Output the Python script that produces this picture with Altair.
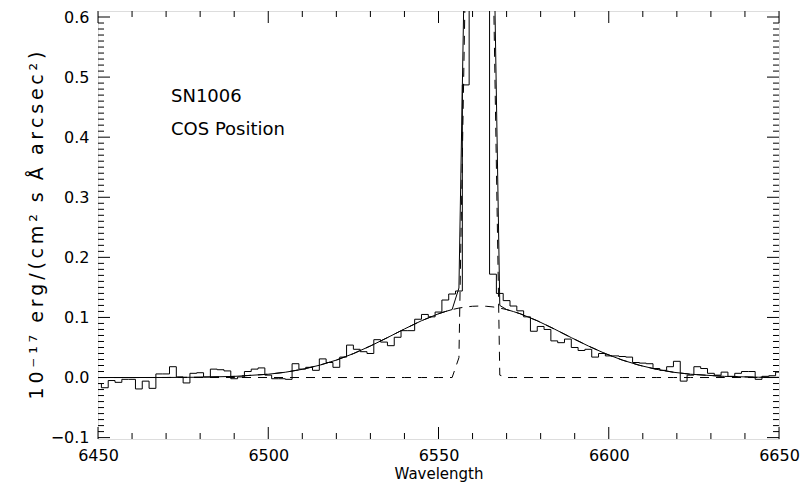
import altair as alt
import pandas as pd

# ---------------- data ----------------
# observed spectrum (histogram, 2 A bins, centres at even wavelengths)
hist_wave = list(range(6450, 6652, 2))
hist_flux = [
    -0.010, -0.017, -0.005, -0.008, -0.003, -0.003, -0.019, -0.006, -0.018, 0.006,   # 6450-6468
    0.006, 0.018, 0.001, -0.009, 0.007, 0.008, 0.001, 0.014, 0.013, 0.011,           # 6470-6488
    -0.002, 0.001, 0.010, 0.014, 0.016, 0.004, -0.002, -0.002, -0.003, 0.023,        # 6490-6508
    0.014, 0.017, 0.012, 0.031, 0.025, 0.017, 0.034, 0.054, 0.047, 0.043,            # 6510-6528
    0.040, 0.063, 0.059, 0.053, 0.067, 0.078, 0.078, 0.097, 0.105, 0.101,            # 6530-6548
    0.109, 0.129, 0.139, 0.144, 0.487, 1.600, 2.800, 1.900, 0.172, 0.140,            # 6550-6568
    0.128, 0.119, 0.111, 0.101, 0.077, 0.085, 0.080, 0.061, 0.058, 0.064,            # 6570-6588
    0.050, 0.045, 0.047, 0.034, 0.040, 0.036, 0.036, 0.035, 0.034, 0.025,            # 6590-6608
    0.024, 0.023, 0.015, 0.012, 0.018, 0.027, -0.006, 0.004, 0.018, 0.015,           # 6610-6628
    0.007, 0.004, 0.009, 0.002, 0.007, 0.010, 0.010, -0.003, 0.002, 0.003,           # 6630-6648
    0.009,                                                                          # 6650
]

# model curves (sampled wavelengths)
model_wave = [6450, 6460, 6470, 6480, 6490, 6500, 6505, 6510, 6515, 6520,
              6525, 6530, 6535, 6540, 6545, 6550, 6552, 6554, 6556, 6558,
              6560, 6562, 6564, 6566, 6568, 6570, 6572, 6574, 6579, 6584,
              6589, 6594, 6599, 6604, 6609, 6614, 6619, 6624, 6634, 6644, 6650]
broad_flux = [0.0000, 0.0000, 0.0001, 0.0005, 0.0019, 0.0055, 0.0088, 0.0137, 0.0204, 0.0290,
              0.0398, 0.0525, 0.0664, 0.0808, 0.0945, 0.1061, 0.1098, 0.1131, 0.1156, 0.1175,
              0.1186, 0.1190, 0.1186, 0.1175, 0.1156, 0.1131, 0.1098, 0.1061, 0.0945, 0.0808,
              0.0664, 0.0525, 0.0398, 0.0290, 0.0204, 0.0137, 0.0088, 0.0055, 0.0019, 0.0005, 0.0002]
narrow_flux = [0.0, 0.0, 0.0, 0.0, 0.0, 0.0, 0.0, 0.0, 0.0, 0.0,
               0.0, 0.0, 0.0, 0.0, 0.0, 0.0, 0.0, 0.0, 0.033, 0.70,
               2.60, 3.60, 2.60, 0.70, 0.004, 0.0, 0.0, 0.0, 0.0, 0.0,
               0.0, 0.0, 0.0, 0.0, 0.0, 0.0, 0.0, 0.0, 0.0, 0.0, 0.0]
total_flux = [0.0000, 0.0000, 0.0001, 0.0005, 0.0019, 0.0055, 0.0088, 0.0137, 0.0204, 0.0290,
              0.0398, 0.0525, 0.0664, 0.0808, 0.0945, 0.1061, 0.1098, 0.1131, 0.149, 0.818,
              2.719, 3.719, 2.719, 0.818, 0.120, 0.1131, 0.1098, 0.1061, 0.0945, 0.0808,
              0.0664, 0.0525, 0.0398, 0.0290, 0.0204, 0.0137, 0.0088, 0.0055, 0.0019, 0.0005, 0.0002]

# axis ticks
x_major = [6450, 6500, 6550, 6600, 6650]
x_minor = [w for w in range(6460, 6650, 10) if w % 50]
y_major = [-0.1, 0.0, 0.1, 0.2, 0.3, 0.4, 0.5, 0.6]
y_minor = [round(-0.1 + i * 0.01, 2) for i in range(71) if i % 10]

labels_text = ["SN1006", "COS Position"]
# wide, evenly spaced lettering like the original vector font
TS = "\u2009"          # thin space between letters
WS = "\u00a0\u00a0"    # non-collapsing gap between words
y_title = WS.join(TS.join(word) for word in ["10⁻¹⁷", "erg/(cm²", "s", "Å", "arcsec²)"])

# ---------------- chart ----------------
W, H = 681, 428
FONT = "DejaVu Sans"
xs = alt.Scale(domain=[6450, 6650], nice=False, zero=False)
ys = alt.Scale(domain=[-0.1023, 0.6100], nice=False, zero=False)

hist_df = pd.DataFrame({"wave": hist_wave, "flux": hist_flux})
model_df = pd.DataFrame({"wave": model_wave, "broad": broad_flux,
                         "narrow": narrow_flux, "total": total_flux})

x_axis = alt.Axis(values=x_major, format="d", tickSize=0, ticks=False, domain=False, grid=False,
                  labelPadding=8, labelFontSize=16, labelFont=FONT, labelColor="black",
                  title="Wavelength", titleFont=FONT, titleFontSize=15, titleFontWeight="normal",
                  titleColor="black", titlePadding=3, labelFlush=False)
y_axis = alt.Axis(values=y_major, format=".1f", tickSize=0, ticks=False, domain=False, grid=False,
                  labelPadding=9, labelFontSize=16, labelFont=FONT, labelColor="black",
                  title=y_title, titleFont=FONT, titleFontSize=19,
                  titleFontWeight="normal", titleColor="black", titlePadding=4, labelFlush=False)

X = lambda f: alt.X(f"{f}:Q", scale=xs, axis=x_axis)
Y = lambda f: alt.Y(f"{f}:Q", scale=ys, axis=y_axis)

hist = alt.Chart(hist_df).mark_line(interpolate="step", color="black", strokeWidth=1, clip=True).encode(
    x=X("wave"), y=Y("flux"))

def model_line(field, dash=None):
    kw = dict(color="black", strokeWidth=1, clip=True)
    if dash:
        kw["strokeDash"] = dash
    return alt.Chart(model_df).mark_line(**kw).encode(x=X("wave"), y=Y(field))

broad = model_line("broad", [9, 7])
narrow = model_line("narrow", [9, 7])
total = model_line("total")

def xticks(vals, length):
    df = pd.DataFrame({"v": vals})
    b = alt.Chart(df).mark_rule(color="black", strokeWidth=1).encode(
        x=X("v"), y=alt.value(H), y2=alt.value(H - length))
    t = alt.Chart(df).mark_rule(color="black", strokeWidth=1).encode(
        x=X("v"), y=alt.value(0), y2=alt.value(length))
    return [b, t]

def yticks(vals, length):
    df = pd.DataFrame({"v": vals})
    l = alt.Chart(df).mark_rule(color="black", strokeWidth=1).encode(
        y=Y("v"), x=alt.value(0), x2=alt.value(length))
    r = alt.Chart(df).mark_rule(color="black", strokeWidth=1).encode(
        y=Y("v"), x=alt.value(W), x2=alt.value(W - length))
    return [l, r]

ticks = xticks(x_major, 12) + xticks(x_minor, 6) + yticks(y_major, 12) + yticks(y_minor, 6)

txt_df = pd.DataFrame({"t": labels_text, "row": [0, 1]})
texts = [
    alt.Chart(txt_df[txt_df.row == i]).mark_text(
        align="left", baseline="middle", font=FONT, fontSize=18, color="black"
    ).encode(text="t:N", x=alt.value(73), y=alt.value(yy))
    for i, yy in [(0, 86), (1, 119)]
]

chart = alt.layer(hist, broad, narrow, total, *ticks, *texts).properties(
    width=W, height=H,
    autosize=alt.AutoSizeParams(type="none"),
    padding={"left": 90, "top": 3, "right": 21, "bottom": 43},
).configure_view(stroke="black", strokeWidth=1).configure(background="white")

chart.save("out.html", embed_options={"renderer": "svg", "actions": False})
